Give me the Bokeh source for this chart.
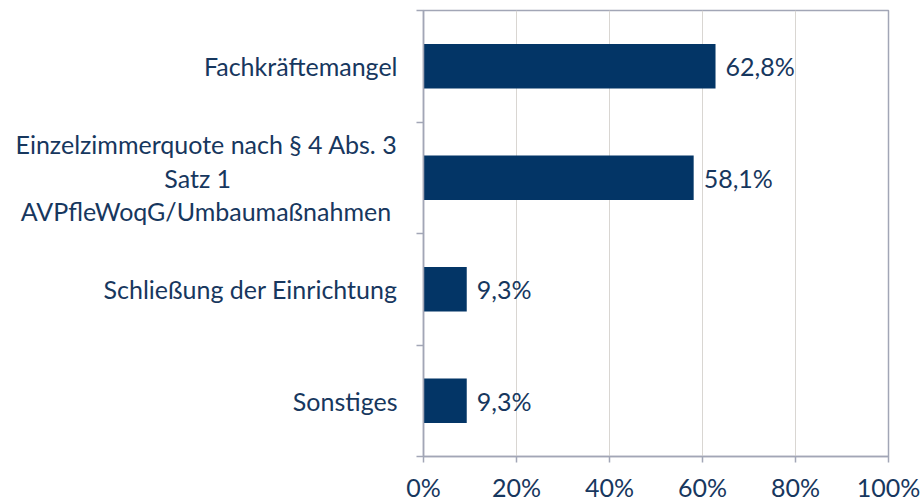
from bokeh.plotting import figure
from bokeh.models import FixedTicker, NumeralTickFormatter, Range1d, ColumnDataSource
from bokeh.embed import file_html
from bokeh.resources import INLINE
from bokeh.core.properties import value

NB = "\u00a0"
categories = [
    "Fachkräftemangel",
    "Einzelzimmerquote nach § 4 Abs. 3\nSatz 1" + NB * 26 + "\nAVPfleWoqG/Umbaumaßnahmen" + NB,
    "Schließung der Einrichtung",
    "Sonstiges",
]
shares = [0.628, 0.581, 0.093, 0.093]
x_ticks = [0, 0.2, 0.4, 0.6, 0.8, 1.0]

BAR = "#033566"
TXT = "#17375E"
AXIS = "#A2A6B6"
GRID = "#D9D6D2"
FONT = "Lato"
FS = "25px"

n = len(categories)
ypos = [n - i - 0.5 for i in range(n)]
labels = [f"{v * 100:.1f}%".replace(".", ",") for v in shares]
src = ColumnDataSource(dict(y=ypos, v=shares, lab=labels))

p = figure(width=923, height=504, output_backend="svg", toolbar_location=None,
           x_range=Range1d(0, 1), y_range=Range1d(0, n),
           min_border_left=423, min_border_right=35, min_border_top=10,
           min_border_bottom=0)
p.background_fill_color = "white"
p.border_fill_color = "white"
p.outline_line_color = AXIS
p.outline_line_width = 1.5

p.hbar(y="y", right="v", left=0, height=0.4, source=src,
       fill_color=BAR, line_color=None)
p.text(x="v", y="y", text="lab", source=src, x_offset=10,
       text_baseline="middle", text_align="left",
       text_font=value(FONT), text_font_size=FS, text_color=TXT)

# x axis
xa = p.xaxis[0]
xa.ticker = FixedTicker(ticks=x_ticks)
xa.formatter = NumeralTickFormatter(format="0%")
xa.major_tick_out = 6
xa.major_tick_in = 0
xa.minor_tick_out = 0
xa.minor_tick_in = 0
xa.axis_line_color = AXIS
xa.axis_line_width = 1.5
xa.major_tick_line_color = AXIS
xa.major_tick_line_width = 1.5
xa.major_label_standoff = 9
xa.major_label_text_font = FONT
xa.major_label_text_font_size = FS
xa.major_label_text_color = TXT

# y axis
ya = p.yaxis[0]
ya.ticker = FixedTicker(ticks=ypos, minor_ticks=list(range(n + 1)))
ya.major_label_overrides = {y: c for y, c in zip(ypos, categories)}
ya.major_tick_out = 0
ya.major_tick_in = 0
ya.minor_tick_out = 7
ya.minor_tick_in = 0
ya.minor_tick_line_color = AXIS
ya.minor_tick_line_width = 1.5
ya.axis_line_color = AXIS
ya.axis_line_width = 1.5
ya.major_label_standoff = 19
ya.major_label_text_font = FONT
ya.major_label_text_font_size = FS
ya.major_label_text_color = TXT
ya.major_label_text_line_height = 1.12

p.ygrid.visible = False
p.xgrid.ticker = FixedTicker(ticks=x_ticks)
p.xgrid.grid_line_color = GRID
p.xgrid.grid_line_width = 1

open("out.html", "w").write(file_html(p, INLINE))
